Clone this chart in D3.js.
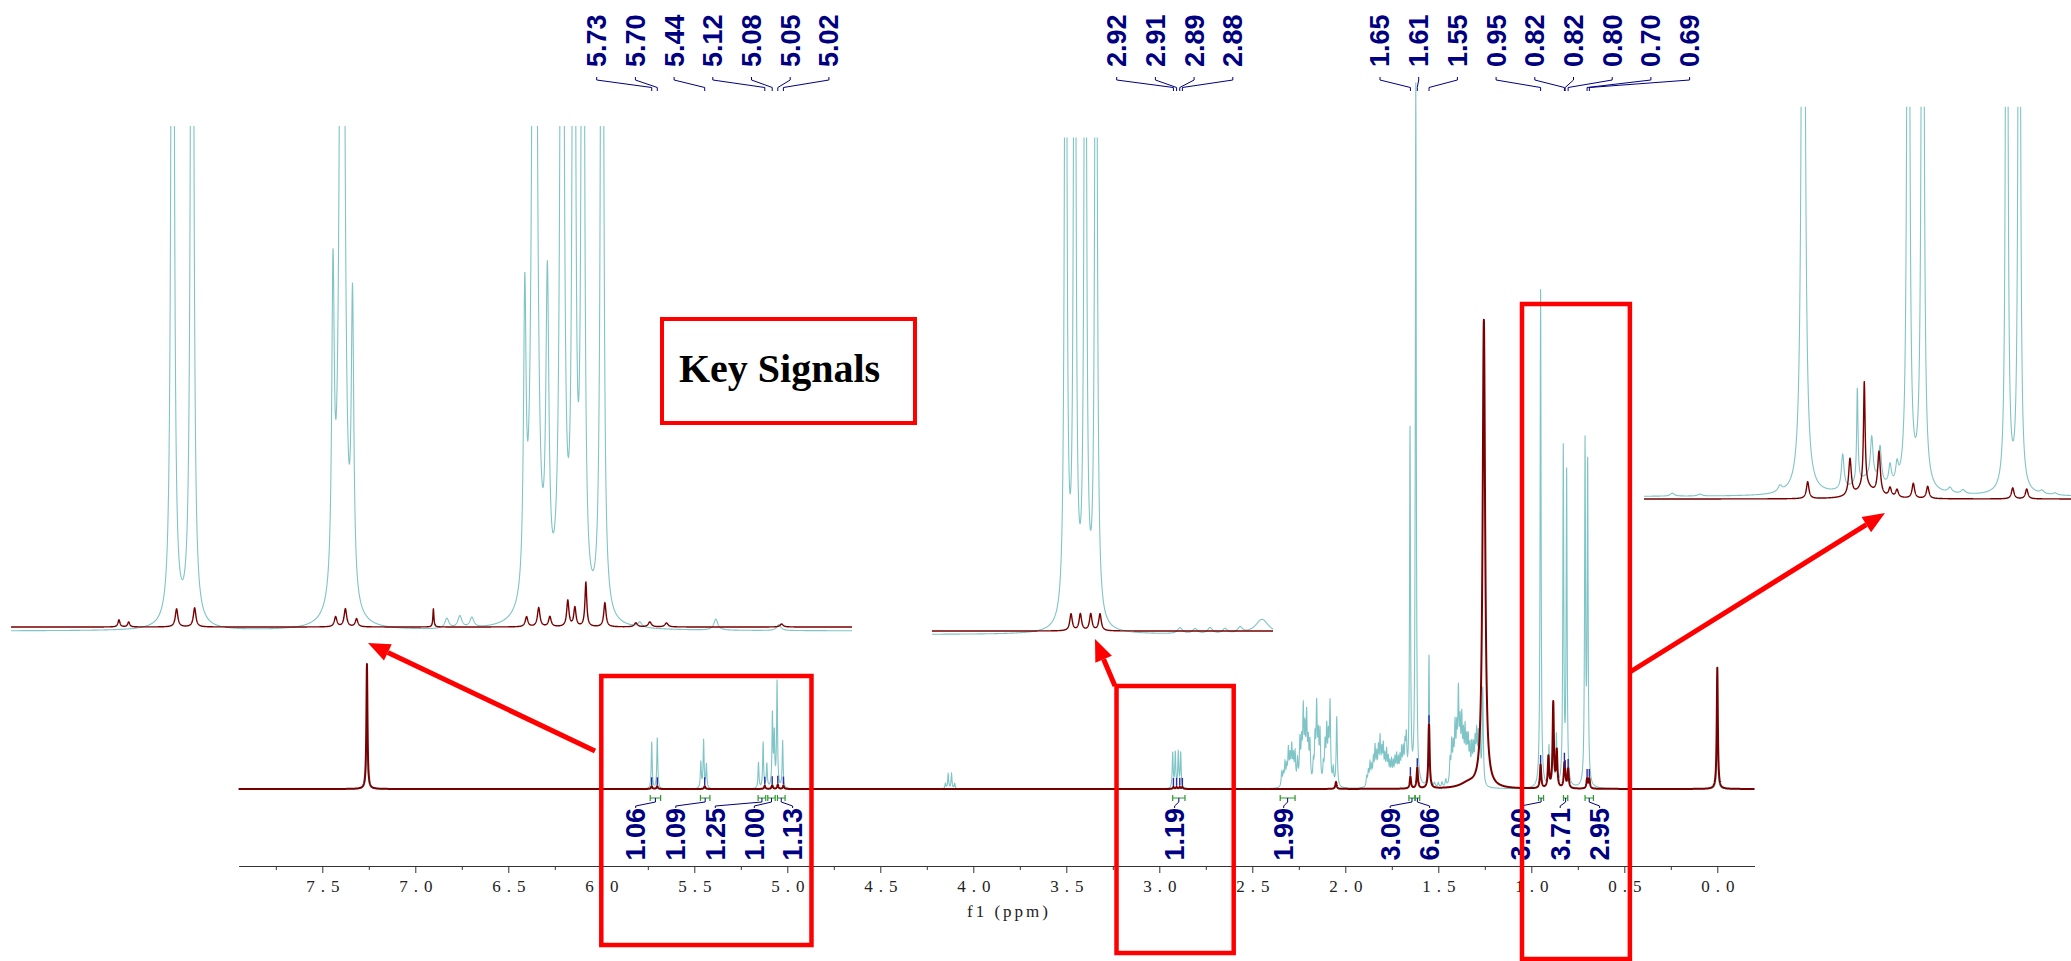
<!DOCTYPE html>
<html lang="en">
<head>
  <meta charset="UTF-8">
  <script src="https://d3js.org/d3.v7.min.js"></script>
  <title>1H NMR - Key Signals</title>
  <style>
    body { margin: 0; background: #fff; overflow: hidden; }
    svg { display: block; }
  </style>
</head>
<body>
<script>
  // ---------- data ----------
  // peaks: [shift (ppm), intensity, half width (ppm)]; main plot: 1.26 ppm peak = 100
  const mainRedPeaks = [
    [7.260, 26.7, 0.0035],
    [5.729, 0.6, 0.004], [5.699, 0.6, 0.004], [5.444, 0.6, 0.004],
    [5.121, 0.7, 0.004], [5.081, 0.8, 0.004], [5.051, 0.9, 0.004], [5.021, 0.7, 0.004],
    [2.924, 0.4, 0.004], [2.907, 0.4, 0.004], [2.890, 0.4, 0.004], [2.876, 0.4, 0.004],
    [2.050, 1.5, 0.004],
    [1.650, 2.6, 0.004], [1.613, 4.5, 0.004], [1.550, 13.7, 0.004],
    [1.340, 1.0, 0.05], [1.255, 100, 0.008],
    [0.950, 5.1, 0.004],
    [0.908, 6.6, 0.004], [0.882, 18.2, 0.004], [0.863, 7.7, 0.004],
    [0.822, 4.7, 0.004], [0.818, 1.5, 0.004], [0.802, 4.1, 0.004],
    [0.700, 2.1, 0.004], [0.688, 2.1, 0.004],
    [0.000, 25.9, 0.0035]
  ];

  const mainTealPeaks = [
    [7.260, 20, 0.003],
    [5.729, 10.0, 0.003], [5.699, 10.9, 0.003],
    [5.465, 5.6, 0.003], [5.450, 10.3, 0.003], [5.435, 5.1, 0.003],
    [5.155, 5.6, 0.003], [5.130, 9.8, 0.003], [5.110, 5.1, 0.003], [5.080, 15.4, 0.003],
    [5.070, 10.9, 0.003], [5.055, 22.6, 0.003], [5.025, 10.0, 0.003],
    [4.150, 1.1, 0.003], [4.135, 3.2, 0.003], [4.117, 3.2, 0.003], [4.100, 1.1, 0.003],
    [2.928, 7.5, 0.003], [2.914, 7.5, 0.003], [2.898, 7.5, 0.003], [2.885, 7.5, 0.003],
    [2.342, 3.0, 0.0035], [2.333, 2.5, 0.0035], [2.324, 4.7, 0.0035], [2.315, 3.5, 0.0035],
    [2.306, 7.3, 0.0035], [2.297, 5.5, 0.0035], [2.288, 7.7, 0.0035], [2.279, 5.5, 0.0035],
    [2.270, 6.4, 0.0035], [2.257, 5.0, 0.0035], [2.244, 9.0, 0.0035], [2.235, 8.0, 0.0035],
    [2.226, 15.0, 0.0035], [2.217, 10.0, 0.0035], [2.208, 13.7, 0.0035], [2.199, 8.0, 0.0035],
    [2.190, 8.5, 0.0035], [2.172, 4.0, 0.0035], [2.163, 9.0, 0.0035], [2.154, 16.0, 0.0035],
    [2.145, 9.0, 0.0035], [2.136, 10.7, 0.0035], [2.118, 3.8, 0.0035], [2.109, 8.0, 0.0035],
    [2.100, 11.1, 0.0035], [2.091, 9.0, 0.0035], [2.082, 17.1, 0.0035], [2.065, 3.4, 0.0035],
    [2.046, 15.0, 0.0035],
    [1.885, 2.0, 0.0035], [1.876, 3.0, 0.0035], [1.867, 4.5, 0.0035], [1.858, 3.5, 0.0035],
    [1.849, 5.0, 0.0035], [1.840, 7.5, 0.0035], [1.831, 5.5, 0.0035], [1.822, 7.0, 0.0035],
    [1.813, 9.0, 0.0035], [1.804, 6.0, 0.0035], [1.796, 7.5, 0.0035], [1.787, 5.0, 0.0035],
    [1.778, 6.6, 0.0035], [1.769, 5.0, 0.0035], [1.760, 4.0, 0.0035], [1.751, 4.5, 0.0035],
    [1.742, 4.0, 0.0035], [1.733, 5.0, 0.0035], [1.724, 5.6, 0.0035], [1.715, 4.5, 0.0035],
    [1.706, 5.0, 0.0035], [1.697, 6.6, 0.0035], [1.688, 6.0, 0.0035], [1.679, 7.0, 0.0035],
    [1.672, 8.5, 0.0035],
    [1.652, 75.6, 0.003], [1.621, 150, 0.003], [1.550, 28.2, 0.003],
    [1.520, 0.8, 0.004], [1.500, 0.9, 0.004], [1.480, 1.0, 0.004], [1.460, 1.5, 0.004],
    [1.437, 5.0, 0.0035], [1.428, 8.5, 0.0035], [1.419, 7.0, 0.0035], [1.410, 11.5, 0.0035],
    [1.401, 10.0, 0.0035], [1.392, 18.2, 0.0035], [1.383, 11.0, 0.0035], [1.374, 12.6, 0.0035],
    [1.365, 9.0, 0.0035], [1.356, 10.5, 0.0035], [1.347, 8.0, 0.0035], [1.339, 8.5, 0.0035],
    [1.330, 7.0, 0.0035], [1.320, 7.5, 0.0035], [1.311, 7.0, 0.0035], [1.302, 8.0, 0.0035],
    [1.294, 9.6, 0.0035], [1.285, 9.0, 0.0035], [1.276, 11.5, 0.0035], [1.261, 20.7, 0.0035],
    [0.950, 106.6, 0.003],
    [0.905, 8.5, 0.003], [0.883, 16.9, 0.003], [0.865, 10.7, 0.003],
    [0.828, 71.8, 0.003], [0.810, 66.5, 0.003],
    [0.711, 72.4, 0.003], [0.697, 67.7, 0.003],
    [0.000, 16.2, 0.003]
  ];

  // insets: intensity 100 = top edge of the inset window
  const insetATeal = [
    [5.731, 300, 0.0021], [5.699, 300, 0.0021],
    [5.468, 62, 0.0025], [5.453, 300, 0.0033], [5.436, 58, 0.0025],
    [5.2813, 2.0, 0.004], [5.260, 2.4, 0.004], [5.2403, 2.0, 0.004],
    [5.1535, 58, 0.0025], [5.1375, 300, 0.0033], [5.1165, 62, 0.003],
    [5.0924, 300, 0.0025], [5.0730, 300, 0.002], [5.0583, 300, 0.002], [5.0268, 300, 0.002],
    [4.9649, 1.0, 0.004], [4.8403, 2.2, 0.004], [4.7370, 1.2, 0.004]
  ];
  const insetARed = [
    [5.819, 1.4, 0.002], [5.803, 1.0, 0.002],
    [5.7245, 3.6, 0.0025], [5.6949, 3.8, 0.0025],
    [5.4637, 2.0, 0.0025], [5.4477, 3.6, 0.0025], [5.4294, 1.6, 0.0025],
    [5.3034, 3.6, 0.001],
    [5.1506, 2.0, 0.0025], [5.1307, 3.8, 0.0025], [5.1124, 2.0, 0.0025],
    [5.0830, 5.2, 0.0022], [5.0714, 3.8, 0.0022], [5.0534, 8.8, 0.0018], [5.0222, 4.8, 0.0022],
    [4.9714, 0.8, 0.003], [4.9485, 1.0, 0.003], [4.9212, 0.8, 0.003], [4.7324, 0.6, 0.003]
  ];
  const insetBTeal = [
    [2.9246, 203, 0.0021], [2.9088, 203, 0.0021], [2.8903, 203, 0.0021], [2.8716, 203, 0.0021],
    [2.7246, 1.2, 0.005], [2.6983, 1.0, 0.005], [2.6721, 1.2, 0.005], [2.6458, 1.0, 0.005],
    [2.6196, 1.2, 0.005], [2.5811, 3.0, 0.014]
  ];
  const insetBRed = [
    [2.9153, 3.4, 0.0026], [2.8990, 3.4, 0.0026], [2.8808, 3.4, 0.0026], [2.8646, 3.4, 0.0026]
  ];
  const insetCTeal = [
    [1.1136, 0.76, 0.003], [1.079, 0.5, 0.003], [0.979, 1.5, 0.003],
    [0.9498, 306, 0.0019],
    [0.9005, 8.9, 0.002], [0.8822, 24, 0.001], [0.8642, 10.7, 0.002], [0.8538, 9.2, 0.002],
    [0.8413, 5.1, 0.002], [0.8326, 4.6, 0.002], [0.870, 4.0, 0.02],
    [0.8185, 306, 0.0014], [0.8005, 306, 0.0014],
    [0.7663, 1.3, 0.003], [0.750, 1.0, 0.003],
    [0.6954, 306, 0.0012], [0.6797, 306, 0.0012],
    [0.6513, 0.8, 0.003], [0.635, 0.5, 0.003]
  ];
  const insetCRed = [
    [0.9443, 4.3, 0.0019],
    [0.8914, 9.4, 0.002], [0.8735, 26.8, 0.0012], [0.8551, 11, 0.002],
    [0.8413, 2.3, 0.002], [0.8326, 2.0, 0.002], [0.872, 3.0, 0.012],
    [0.8122, 3.8, 0.0019], [0.7942, 3.1, 0.0019],
    [0.6879, 2.8, 0.0019], [0.6704, 2.5, 0.0019]
  ];

  // peak picking labels (top) and integrals (bottom)
  const peakLabelGroups = [
    [5.729, 5.699, 5.444, 5.121, 5.081, 5.051, 5.021],
    [2.924, 2.907, 2.890, 2.876],
    [1.650, 1.613, 1.550, 0.950, 0.822, 0.818, 0.802, 0.700, 0.688]
  ];
  const integralRanges = [
    [5.737, 5.681], [5.467, 5.416], [5.157, 5.116], [5.105, 5.065], [5.053, 5.012],
    [2.928, 2.862], [2.350, 2.270], [1.658, 1.625], [1.625, 1.600],
    [0.961, 0.934], [0.827, 0.804], [0.711, 0.666]
  ];
  const integralValues = [1.06, 1.09, 1.25, 1.00, 1.13, 1.19, 1.99, 3.09, 6.06, 3.00, 3.71, 2.95];

  const tickLabels = [7.5, 7.0, 6.5, 6.0, 5.5, 5.0, 4.5, 4.0, 3.5, 3.0, 2.5, 2.0, 1.5, 1.0, 0.5, 0.0];
  const minorTicks = [7.75, 7.25, 6.75, 6.25, 5.75, 5.25, 4.75, 4.25, 3.75, 3.25, 2.75, 2.25, 1.75, 1.25, 0.75, 0.25];

  // ---------- layout ----------
  const width = 2071, height = 961;
  const redCol = "#780000", tealCol = "#7fc4c6", navy = "#000080", green = "#2a9a2a", boxRed = "#ff0000";

  const svg = d3.select("body").append("svg")
    .attr("width", width)
    .attr("height", height);

  // sum of lorentzian lines at one shift
  function intensityAt(peaks, p) {
    let s = 0;
    for (const [c, h, w] of peaks) {
      const d = (p - c) / w;
      s += h / (1 + d * d);
    }
    return s;
  }

  function sample(peaks, domain, n) {
    const hi = Math.max(...domain), lo = Math.min(...domain);
    const pts = d3.range(n + 1).map(i => lo + (hi - lo) * i / n)
      .concat(peaks.map(p => p[0]).filter(p => p > lo && p < hi));
    return pts.sort((a, b) => b - a).map(p => [p, intensityAt(peaks, p)]);
  }

  // main spectrum scales
  const x = d3.scaleLinear().domain([7.95, -0.2]).range([238.6, 1754.5]);
  const y = d3.scaleLinear().domain([0, 100]).range([789, 321]);

  // insets (expanded views)
  const insets = [
    { red: insetARed, teal: insetATeal, domain: [5.996, 4.617], xr: [11, 852], base: 627, top: 126, shift: 4 },
    { red: insetBRed, teal: insetBTeal, domain: [3.159, 2.562], xr: [931.7, 1273], base: 631, top: 137.5, shift: 3.5 },
    { red: insetCRed, teal: insetCTeal, domain: [1.149, 0.615], xr: [1644, 2071], base: 499, top: 106.7, shift: -2.5 }
  ];

  const defs = svg.append("defs");
  insets.forEach((ins, i) => {
    const ix = d3.scaleLinear().domain(ins.domain).range(ins.xr);
    const iy = d3.scaleLinear().domain([0, 100]).range([ins.base, ins.top]);
    const ln = d3.line().x(d => ix(d[0])).y(d => iy(d[1]));
    defs.append("clipPath").attr("id", "clip" + i)
      .append("rect")
      .attr("x", ins.xr[0]).attr("y", ins.top)
      .attr("width", ins.xr[1] - ins.xr[0]).attr("height", ins.base - ins.top + 30);
    const g = svg.append("g").attr("clip-path", `url(#clip${i})`);
    g.append("path")
      .datum(sample(ins.teal, ins.domain, 4000))
      .attr("transform", `translate(0,${ins.shift})`)
      .attr("d", ln)
      .attr("fill", "none")
      .attr("stroke", tealCol)
      .attr("stroke-width", 1.1);
    g.append("path")
      .datum(sample(ins.red, ins.domain, 4000))
      .attr("d", ln)
      .attr("fill", "none")
      .attr("stroke", redCol)
      .attr("stroke-width", 1.4);
  });

  // main spectrum
  const mainLine = d3.line().x(d => x(d[0])).y(d => y(d[1]));
  svg.append("path")
    .datum(sample(mainTealPeaks, x.domain(), 9000))
    .attr("d", mainLine)
    .attr("fill", "none")
    .attr("stroke", tealCol)
    .attr("stroke-width", 1.1);
  svg.append("path")
    .datum(sample(mainRedPeaks, x.domain(), 9000))
    .attr("d", mainLine)
    .attr("fill", "none")
    .attr("stroke", redCol)
    .attr("stroke-width", 2)
    .attr("stroke-linejoin", "round");

  // axis
  const axisY = 866;
  const axisG = svg.append("g")
    .attr("transform", `translate(0,${axisY})`)
    .call(d3.axisBottom(x).tickValues(tickLabels).tickSize(7).tickSizeOuter(0).tickPadding(7)
      .tickFormat(d3.format(".1f")));
  axisG.attr("font-family", "'Liberation Serif', serif").attr("font-size", 17);
  axisG.select(".domain").attr("stroke", "#333");
  axisG.selectAll(".tick line").attr("stroke", "#333");
  axisG.selectAll(".tick text").attr("fill", "#222").attr("letter-spacing", "6px").attr("dx", "3px");

  svg.append("g")
    .attr("transform", `translate(0,${axisY})`)
    .call(d3.axisBottom(x).tickValues(minorTicks).tickSize(4).tickFormat(""))
    .call(g => g.select(".domain").remove())
    .selectAll(".tick line").attr("stroke", "#333");

  svg.append("text")
    .attr("x", 1009).attr("y", 917)
    .attr("text-anchor", "middle")
    .attr("font-family", "'Liberation Serif', serif")
    .attr("font-size", 17)
    .attr("letter-spacing", "3px")
    .attr("fill", "#222")
    .text("f1 (ppm)");

  // peak labels with connectors and peak markers
  const labelGroupStart = [596.7, 1116.7, 1380];
  const labelStep = 38.7;
  peakLabelGroups.forEach((grp, gi) => {
    grp.forEach((p, i) => {
      const lx = labelGroupStart[gi] + i * labelStep, px = x(p);
      svg.append("text")
        .attr("transform", `translate(${lx},67) rotate(-90)`)
        .attr("dy", "0.35em")
        .attr("font-family", "'Liberation Sans', Arial, sans-serif")
        .attr("font-weight", "bold")
        .attr("font-size", 27)
        .attr("fill", navy)
        .text(p.toFixed(2));
      svg.append("path")
        .attr("d", `M${lx},77V80L${px},87.5V91`)
        .attr("fill", "none")
        .attr("stroke", navy)
        .attr("stroke-width", 1);
      const top = y(intensityAt(mainRedPeaks, p));
      svg.append("line")
        .attr("x1", px).attr("x2", px)
        .attr("y1", top - 9).attr("y2", top - 1)
        .attr("stroke", "#2a2aa0")
        .attr("stroke-width", 1.4);
    });
  });

  // integrals
  const integralLabelX = [635.7, 675.8, 715.3, 754.3, 792.6, 1174.6, 1283.7, 1390.2, 1429.6, 1520.8, 1560.2, 1599.6];
  integralRanges.forEach(([a, b], i) => {
    const x1 = x(a), x2 = x(b), cx = (x1 + x2) / 2, lx = integralLabelX[i];
    svg.append("path")
      .attr("d", `M${x1},795V801M${x1},798H${x2}M${x2},795V801`)
      .attr("fill", "none")
      .attr("stroke", green)
      .attr("stroke-width", 1.2);
    svg.append("path")
      .attr("d", `M${cx},798V802L${lx},806V808`)
      .attr("fill", "none")
      .attr("stroke", navy)
      .attr("stroke-width", 1);
    svg.append("text")
      .attr("transform", `translate(${lx},808) rotate(-90)`)
      .attr("text-anchor", "end")
      .attr("dy", "0.35em")
      .attr("font-family", "'Liberation Sans', Arial, sans-serif")
      .attr("font-weight", "bold")
      .attr("font-size", 27)
      .attr("fill", navy)
      .text(integralValues[i].toFixed(2));
  });

  // highlight boxes (ppm extent, top, bottom)
  const zoomBoxes = [[6.0, 4.87, 676, 945], [3.23, 2.60, 686, 953], [1.05, 0.47, 304, 959]];
  zoomBoxes.forEach(([a, b, t, bt]) => {
    svg.append("rect")
      .attr("x", x(a)).attr("y", t)
      .attr("width", x(b) - x(a)).attr("height", bt - t)
      .attr("fill", "none")
      .attr("stroke", boxRed)
      .attr("stroke-width", 4.5);
  });

  // key signals label
  svg.append("rect")
    .attr("x", 662).attr("y", 319)
    .attr("width", 253).attr("height", 104)
    .attr("fill", "none")
    .attr("stroke", boxRed)
    .attr("stroke-width", 4);
  svg.append("text")
    .attr("x", 679).attr("y", 382)
    .attr("font-family", "'Liberation Serif', 'Times New Roman', serif")
    .attr("font-weight", "bold")
    .attr("font-size", 40)
    .attr("fill", "#000")
    .text("Key Signals");

  // arrows from boxes to insets
  function arrow(x1, y1, x2, y2) {
    const ang = Math.atan2(y2 - y1, x2 - x1), L = 22, hw = 9;
    const bx = x2 - L * Math.cos(ang), by = y2 - L * Math.sin(ang);
    svg.append("line")
      .attr("x1", x1).attr("y1", y1).attr("x2", bx).attr("y2", by)
      .attr("stroke", boxRed)
      .attr("stroke-width", 5);
    svg.append("path")
      .attr("d", `M${x2},${y2}L${bx + hw * Math.sin(ang)},${by - hw * Math.cos(ang)}L${bx - hw * Math.sin(ang)},${by + hw * Math.cos(ang)}Z`)
      .attr("fill", boxRed);
  }
  arrow(595, 751, 368, 643);
  arrow(1115, 686, 1095, 639);
  arrow(1630, 672, 1885, 513);
</script>
</body>
</html>
